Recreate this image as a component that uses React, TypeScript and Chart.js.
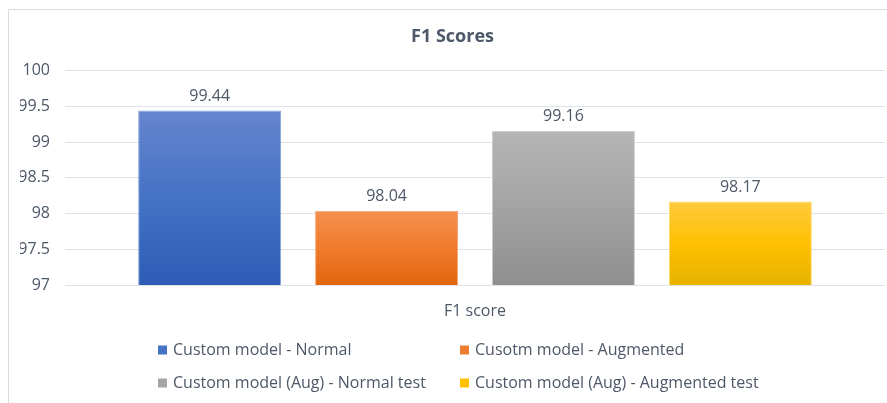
import { useEffect, useRef } from 'react';
import { Chart, registerables } from 'chart.js';

Chart.register(...registerables);

// ---- data ----
const categories = ['F1 score'];
const seriesLabels = [
  'Custom model - Normal',
  'Cusotm model - Augmented',
  'Custom model (Aug) - Normal test',
  'Custom model (Aug) - Augmented test',
];
const seriesValues = [99.44, 98.04, 99.16, 98.17];
const yMin = 97;
const yMax = 100;
const yStep = 0.5;
const chartTitle = 'F1 Scores';

// ---- styles ----
const TEXT = '#4d5868';
const FONT = "'Open Sans', 'Noto Sans', sans-serif";
const gradTop = ['#6685cf', '#f4914f', '#b5b5b5', '#ffca3f'];
const gradMid = ['#4472c4', '#ef7b2c', '#a3a3a3', '#ffc000'];
const gradBottom = ['#2e5cb5', '#e2660f', '#8f8f8f', '#e6b200'];
const borderCols = ['#87a3de', '#f6a878', '#cbcbcb', '#ffd86a'];
const legendCols = ['#4472c4', '#ed7d31', '#a5a5a5', '#ffc000'];

const framePlugin = {
  id: 'frame',
  beforeDraw(chart: any) {
    const ctx = chart.ctx;
    ctx.save();
    ctx.fillStyle = '#ffffff';
    ctx.fillRect(0, 0, chart.width, chart.height);
    ctx.strokeStyle = '#d9dce2';
    ctx.lineWidth = 1;
    ctx.beginPath();
    ctx.moveTo(8.5, chart.height + 5);
    ctx.lineTo(8.5, 9.5);
    ctx.lineTo(chart.width + 5, 9.5);
    ctx.stroke();
    ctx.restore();
  },
};

const valueLabelPlugin = {
  id: 'valueLabels',
  afterDatasetsDraw(chart: any) {
    const ctx = chart.ctx;
    ctx.save();
    ctx.font = `16px ${FONT}`;
    ctx.fillStyle = TEXT;
    ctx.textAlign = 'center';
    ctx.textBaseline = 'bottom';
    chart.data.datasets.forEach((ds: any, i: number) => {
      const meta = chart.getDatasetMeta(i);
      meta.data.forEach((el: any, j: number) => {
        ctx.fillText(String(ds.data[j]), el.x, el.y - 6);
      });
    });
    ctx.restore();
  },
};

const gridLegendPlugin = {
  id: 'gridLegend',
  afterDraw(chart: any) {
    const ctx = chart.ctx;
    const area = chart.chartArea;
    const cols = [area.left + 93, area.left + 395];
    const rows = [area.bottom + 65, area.bottom + 98];
    ctx.save();
    ctx.font = `16px ${FONT}`;
    ctx.textBaseline = 'middle';
    ctx.textAlign = 'left';
    chart.data.datasets.forEach((ds: any, i: number) => {
      const x = cols[i % 2];
      const y = rows[Math.floor(i / 2)];
      ctx.fillStyle = legendCols[i];
      ctx.fillRect(x, y - 4.5, 9, 9);
      ctx.fillStyle = TEXT;
      ctx.fillText(ds.label, x + 15, y);
    });
    ctx.restore();
  },
};

function makeGradient(i: number) {
  return (c: any) => {
    const chart = c.chart;
    const area = chart.chartArea;
    if (!area || c.raw === undefined) return gradMid[i];
    const yTop = chart.scales.y.getPixelForValue(c.raw);
    const g = chart.ctx.createLinearGradient(0, yTop, 0, area.bottom);
    g.addColorStop(0, gradTop[i]);
    g.addColorStop(0.5, gradMid[i]);
    g.addColorStop(1, gradBottom[i]);
    return g;
  };
}

export default function App() {
  const ref = useRef<HTMLCanvasElement | null>(null);

  useEffect(() => {
    document.body.style.margin = '0';
    if (!ref.current) return;
    const chart = new Chart(ref.current, {
      type: 'bar',
      data: {
        labels: categories,
        datasets: seriesLabels.map((label, i) => ({
          label,
          data: [seriesValues[i]],
          backgroundColor: makeGradient(i),
          borderColor: borderCols[i],
          borderWidth: 1,
          categoryPercentage: 0.863,
          barPercentage: 0.808,
        })),
      },
      options: {
        responsive: false,
        maintainAspectRatio: false,
        animation: false,
        layout: { padding: { left: 20, right: 2, top: 0, bottom: 82 } },
        plugins: {
          legend: { display: false },
          tooltip: { enabled: false },
          title: {
            display: true,
            text: chartTitle,
            color: TEXT,
            font: { family: FONT, size: 18, weight: 'bold' },
            padding: { top: 26, bottom: 23 },
          },
        },
        scales: {
          x: {
            grid: { display: false, drawTicks: false },
            border: { display: false },
            ticks: { color: TEXT, font: { family: FONT, size: 16 }, padding: 17 },
            afterFit(scale: any) {
              scale.height = 36;
            },
          },
          y: {
            min: yMin,
            max: yMax,
            grid: { color: '#dfe2e7', lineWidth: 1, drawTicks: false },
            border: { display: false },
            ticks: {
              stepSize: yStep,
              color: TEXT,
              font: { family: FONT, size: 16 },
              padding: 15,
              callback: (v: any) => String(Number(v)),
            },
            afterFit(scale: any) {
              scale.width = 45;
            },
          },
        },
      },
      plugins: [framePlugin, valueLabelPlugin, gridLegendPlugin],
    } as any);
    return () => chart.destroy();
  }, []);

  return (
    <div style={{ width: 887, height: 403 }}>
      <canvas ref={ref} width={887} height={403} />
    </div>
  );
}
